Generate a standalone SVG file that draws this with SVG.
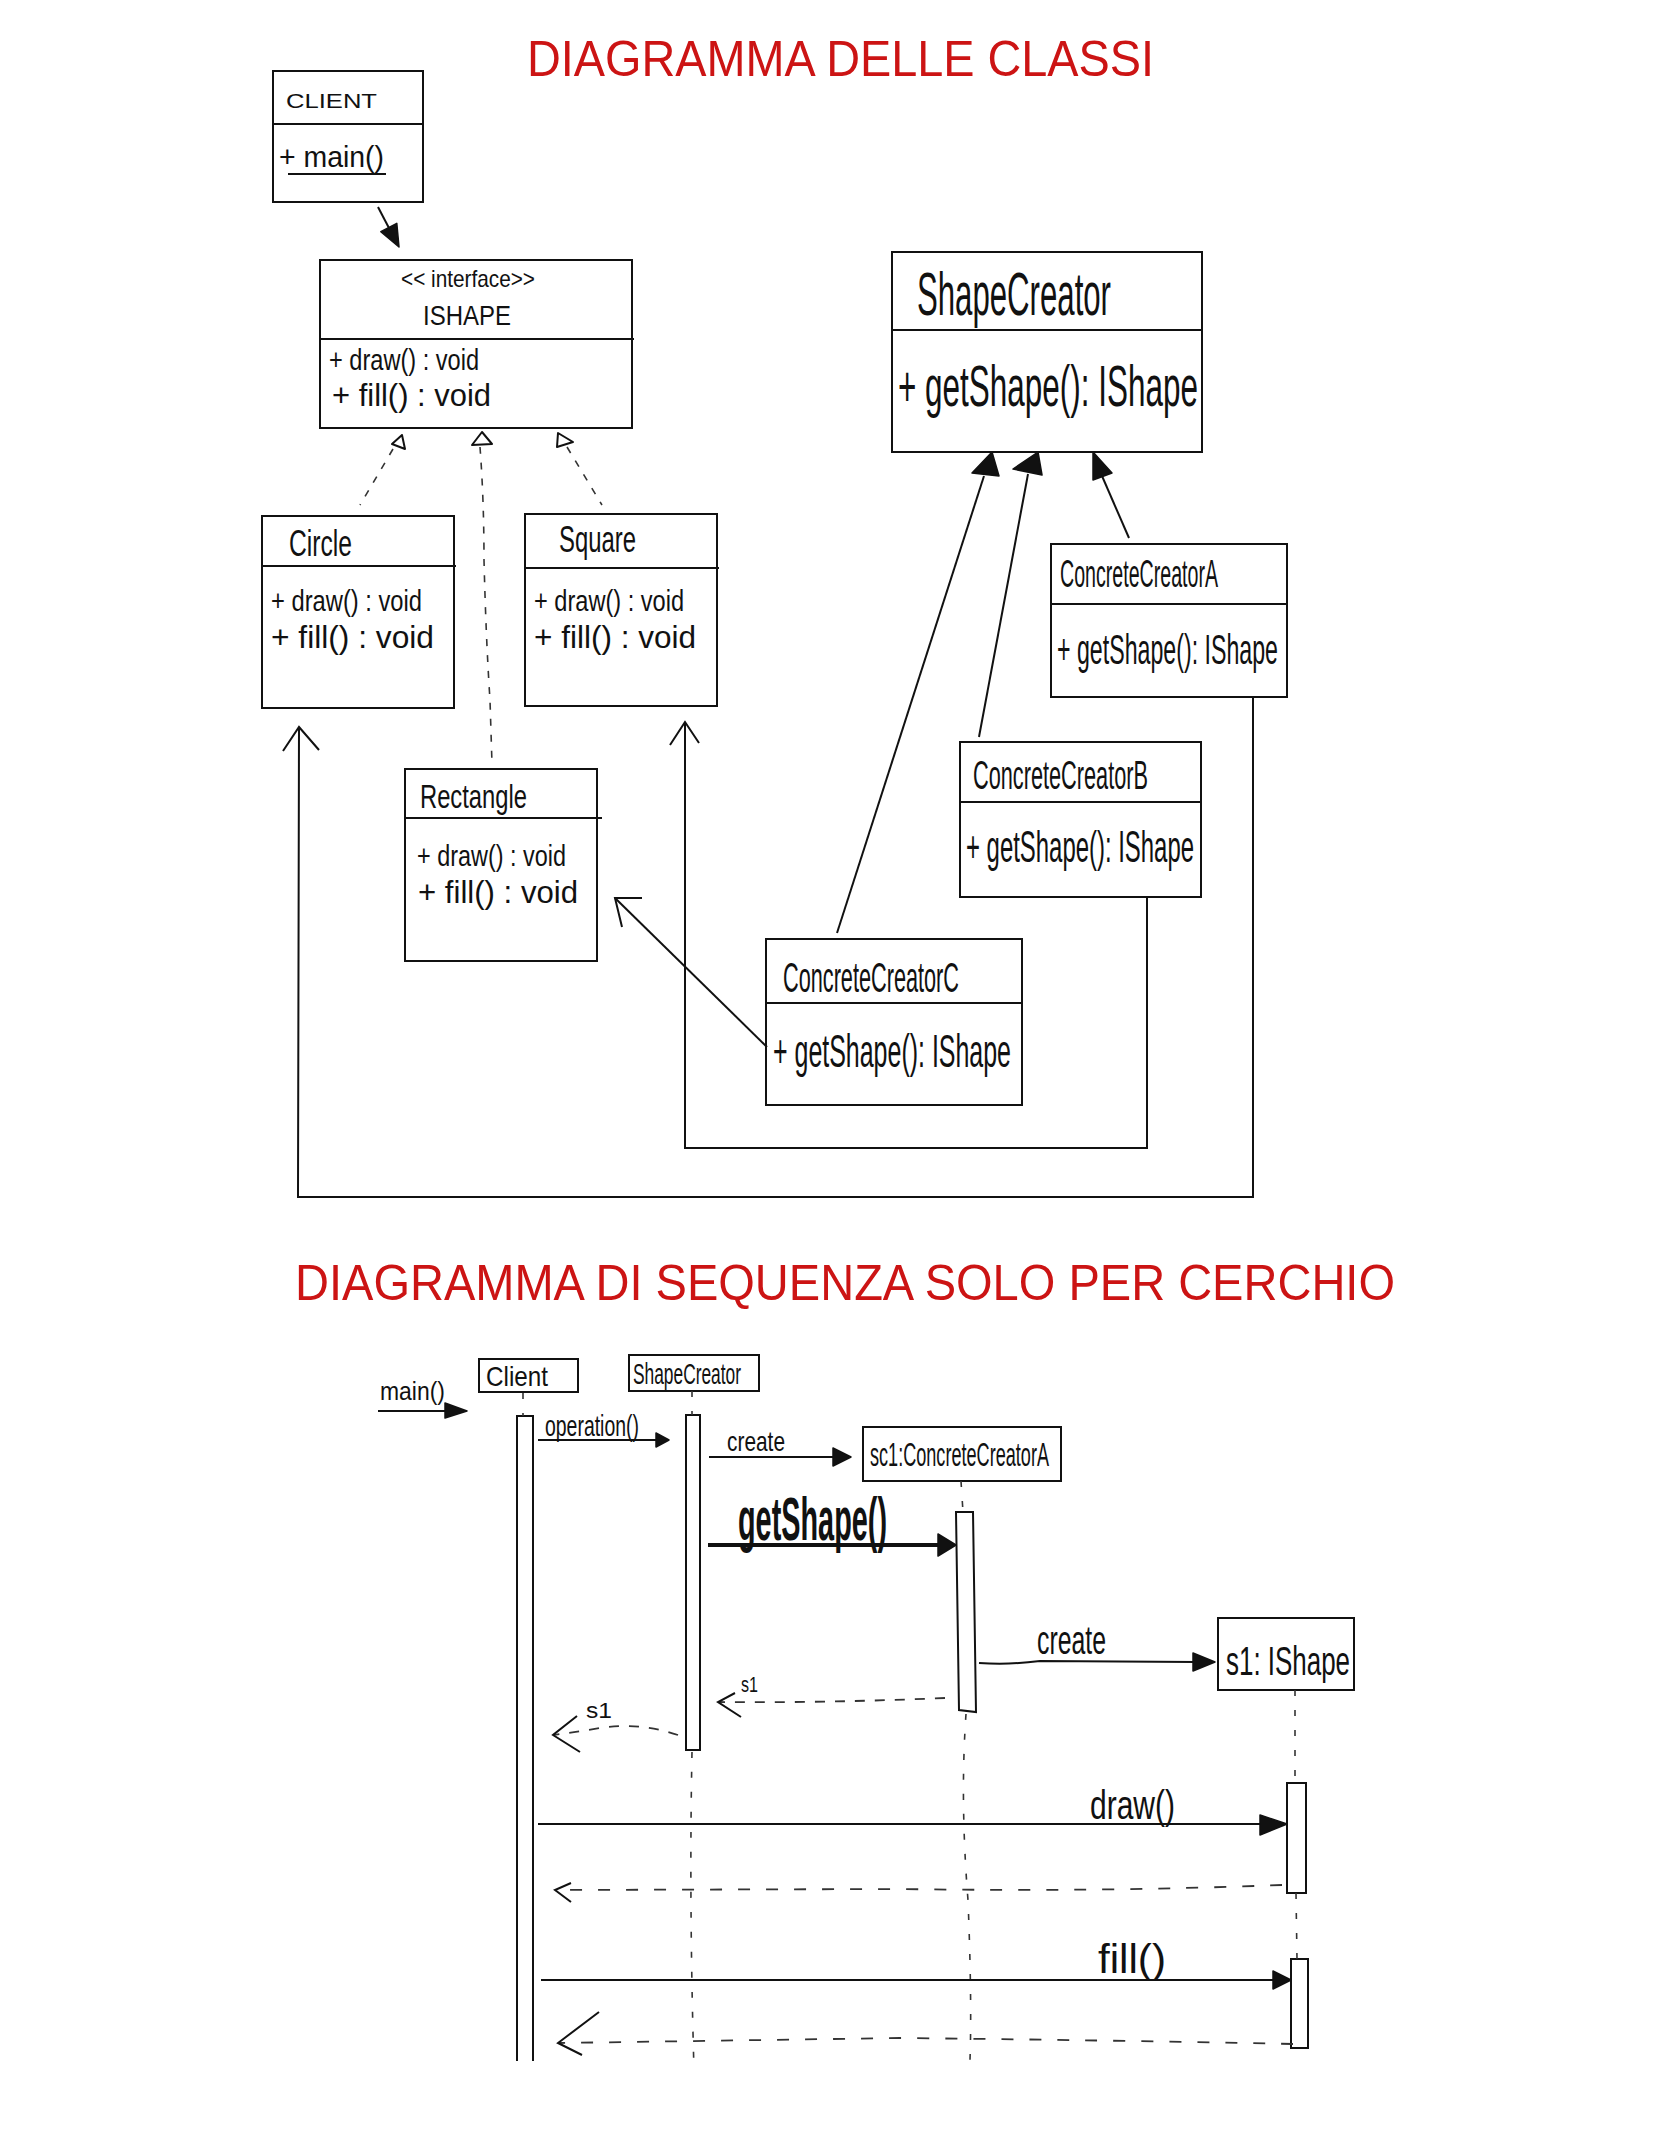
<svg xmlns="http://www.w3.org/2000/svg" width="1668" height="2154" viewBox="0 0 1668 2154">
<style>
.bg{fill:#fff}
.box{fill:none;stroke:#111;stroke-width:2}
.ln{fill:none;stroke:#111;stroke-width:2}
.thick{fill:none;stroke:#111;stroke-width:4}
.dash{fill:none;stroke:#333;stroke-width:1.6;stroke-dasharray:7 9}
.life{fill:none;stroke:#333;stroke-width:1.6;stroke-dasharray:6 14}
.ret{fill:none;stroke:#333;stroke-width:1.8;stroke-dasharray:12 16}
.head{fill:#111;stroke:#111;stroke-width:1.5;stroke-linejoin:round}
.hollow{fill:#fff;stroke:#111;stroke-width:2;stroke-linejoin:round}
.hw{font-family:"Liberation Sans","DejaVu Sans",sans-serif;fill:#111}
.bold{font-weight:bold}
.title{font-family:"Liberation Sans","DejaVu Sans",sans-serif;fill:#cc1414;font-size:50px}
</style>
<rect class="bg" x="0" y="0" width="1668" height="2154"/>

<text class="title" x="527" y="76" textLength="627" lengthAdjust="spacingAndGlyphs">DIAGRAMMA DELLE CLASSI</text>
<text class="title" x="295" y="1300" textLength="1100" lengthAdjust="spacingAndGlyphs">DIAGRAMMA DI SEQUENZA SOLO PER CERCHIO</text>

<!-- class diagram nodes -->
<g id="client">
<rect class="box" x="273" y="71" width="150" height="131"/>
<line class="ln" x1="273" y1="124" x2="423" y2="124"/>
<text class="hw" x="286" y="108" font-size="21" textLength="91" lengthAdjust="spacingAndGlyphs">CLIENT</text>
<text class="hw" x="279" y="167" font-size="30" textLength="105" lengthAdjust="spacingAndGlyphs">+ main()</text>
<line class="ln" x1="288" y1="174" x2="386" y2="174"/>
</g>

<g id="ishape">
<rect class="box" x="320" y="260" width="312" height="168"/>
<line class="ln" x1="320" y1="339" x2="634" y2="339"/>
<text class="hw" x="401" y="287" font-size="24" textLength="134" lengthAdjust="spacingAndGlyphs">&lt;&lt; interface&gt;&gt;</text>
<text class="hw" x="423" y="325" font-size="28" textLength="88" lengthAdjust="spacingAndGlyphs">ISHAPE</text>
<text class="hw" x="329" y="370" font-size="30" textLength="150" lengthAdjust="spacingAndGlyphs">+ draw() : void</text>
<text class="hw" x="332" y="406" font-size="32" textLength="159" lengthAdjust="spacingAndGlyphs">+ fill() : void</text>
</g>

<g id="circle">
<rect class="box" x="262" y="516" width="192" height="192"/>
<line class="ln" x1="262" y1="566" x2="456" y2="566"/>
<text class="hw" x="289" y="556" font-size="36" textLength="63" lengthAdjust="spacingAndGlyphs">Circle</text>
<text class="hw" x="271" y="611" font-size="30" textLength="151" lengthAdjust="spacingAndGlyphs">+ draw() : void</text>
<text class="hw" x="271" y="648" font-size="32" textLength="163" lengthAdjust="spacingAndGlyphs">+ fill() : void</text>
</g>

<g id="square">
<rect class="box" x="525" y="514" width="192" height="192"/>
<line class="ln" x1="525" y1="568" x2="719" y2="568"/>
<text class="hw" x="559" y="552" font-size="36" textLength="77" lengthAdjust="spacingAndGlyphs">Square</text>
<text class="hw" x="534" y="611" font-size="30" textLength="150" lengthAdjust="spacingAndGlyphs">+ draw() : void</text>
<text class="hw" x="534" y="648" font-size="32" textLength="162" lengthAdjust="spacingAndGlyphs">+ fill() : void</text>
</g>

<g id="rectangle">
<rect class="box" x="405" y="769" width="192" height="192"/>
<line class="ln" x1="405" y1="818" x2="602" y2="818"/>
<text class="hw" x="420" y="808" font-size="34" textLength="107" lengthAdjust="spacingAndGlyphs">Rectangle</text>
<text class="hw" x="417" y="866" font-size="30" textLength="149" lengthAdjust="spacingAndGlyphs">+ draw() : void</text>
<text class="hw" x="418" y="903" font-size="32" textLength="160" lengthAdjust="spacingAndGlyphs">+ fill() : void</text>
</g>

<g id="shapecreator">
<rect class="box" x="892" y="252" width="310" height="200"/>
<line class="ln" x1="892" y1="330" x2="1202" y2="330"/>
<text class="hw" x="917" y="315" font-size="62" textLength="194" lengthAdjust="spacingAndGlyphs">ShapeCreator</text>
<text class="hw" x="898" y="406" font-size="58" textLength="300" lengthAdjust="spacingAndGlyphs">+ getShape(): IShape</text>
</g>

<g id="concreteCreatorA">
<rect class="box" x="1051" y="544" width="236" height="153"/>
<line class="ln" x1="1051" y1="604" x2="1287" y2="604"/>
<text class="hw" x="1060" y="587" font-size="38" textLength="158" lengthAdjust="spacingAndGlyphs">ConcreteCreatorA</text>
<text class="hw" x="1057" y="664" font-size="42" textLength="221" lengthAdjust="spacingAndGlyphs">+ getShape(): IShape</text>
</g>

<g id="concreteCreatorB">
<rect class="box" x="960" y="742" width="241" height="155"/>
<line class="ln" x1="960" y1="802" x2="1201" y2="802"/>
<text class="hw" x="973" y="789" font-size="40" textLength="175" lengthAdjust="spacingAndGlyphs">ConcreteCreatorB</text>
<text class="hw" x="966" y="862" font-size="44" textLength="228" lengthAdjust="spacingAndGlyphs">+ getShape(): IShape</text>
</g>

<g id="concreteCreatorC">
<rect class="box" x="766" y="939" width="256" height="166"/>
<line class="ln" x1="766" y1="1003" x2="1022" y2="1003"/>
<text class="hw" x="783" y="992" font-size="42" textLength="176" lengthAdjust="spacingAndGlyphs">ConcreteCreatorC</text>
<text class="hw" x="773" y="1067" font-size="46" textLength="238" lengthAdjust="spacingAndGlyphs">+ getShape(): IShape</text>
</g>

<!-- class diagram connectors -->
<g id="class-connectors">
<line class="ln" x1="378" y1="207" x2="390" y2="230"/>
<polygon class="head" points="399,247 380.8,231.7 396.8,223.3"/>

<path class="dash" d="M393,449 L360,505"/>
<polygon class="hollow" points="402,435 392,444 405,449"/>
<path class="dash" d="M480,447 Q484,500 484,560 Q486,640 490,700 L492,764"/>
<polygon class="hollow" points="482,432 472,445 492,444"/>
<path class="dash" d="M567,447 L602,505"/>
<polygon class="hollow" points="558,433 557,447 573,442"/>

<line class="ln" x1="984" y1="476" x2="837" y2="933"/>
<polygon class="head" points="992,452 972,473 999,476"/>
<line class="ln" x1="1028" y1="474" x2="979" y2="737"/>
<polygon class="head" points="1038,452 1013,469 1042,475"/>
<line class="ln" x1="1102" y1="476" x2="1129" y2="538"/>
<polygon class="head" points="1093,452 1093,480 1112,473"/>

<line class="ln" x1="767" y1="1047" x2="615" y2="898"/>
<polyline class="ln" points="642,898 615,898 622,927"/>

<polyline class="ln" points="1147,897 1147,1148 685,1148 685,722"/>
<polyline class="ln" points="670,745 685,722 699,743"/>
<polyline class="ln" points="1253,697 1253,1197 298,1197 299,727"/>
<polyline class="ln" points="283,751 299,727 319,750"/>
</g>

<!-- sequence diagram nodes -->
<g id="seq-client">
<rect class="box" x="479" y="1359" width="99" height="33"/>
<text class="hw" x="486" y="1386" font-size="28" textLength="62" lengthAdjust="spacingAndGlyphs">Client</text>
<path class="ln" d="M517,2061 V1416 H533 V2061"/>
</g>

<g id="seq-shapecreator">
<rect class="box" x="629" y="1355" width="130" height="36"/>
<text class="hw" x="633" y="1384" font-size="30" textLength="108" lengthAdjust="spacingAndGlyphs">ShapeCreator</text>
<rect class="box" x="686" y="1415" width="14" height="335"/>
</g>

<g id="seq-sc1">
<rect class="box" x="863" y="1427" width="198" height="54"/>
<text class="hw" x="870" y="1466" font-size="34" textLength="179" lengthAdjust="spacingAndGlyphs">sc1:ConcreteCreatorA</text>
<polygon class="box" points="956,1512 973,1512 976,1712 959,1710"/>
</g>

<g id="seq-s1">
<rect class="box" x="1218" y="1618" width="136" height="72"/>
<text class="hw" x="1226" y="1675" font-size="40" textLength="124" lengthAdjust="spacingAndGlyphs">s1: IShape</text>
<rect class="box" x="1287" y="1783" width="19" height="110"/>
<rect class="box" x="1291" y="1959" width="17" height="89"/>
</g>

<!-- sequence connectors -->
<g id="seq-connectors">
<line class="life" x1="523" y1="1393" x2="523" y2="1416"/>
<line class="life" x1="692" y1="1391" x2="692" y2="1415"/>
<path class="life" d="M692,1752 Q689,1900 694,2070"/>
<line class="life" x1="961" y1="1481" x2="963" y2="1512"/>
<path class="life" d="M966,1714 Q960,1800 968,1900 Q972,2000 970,2060"/>
<line class="life" x1="1295" y1="1690" x2="1295" y2="1783"/>
<line class="life" x1="1296" y1="1893" x2="1297" y2="1959"/>

<text class="hw" x="380" y="1400" font-size="26" textLength="65" lengthAdjust="spacingAndGlyphs">main()</text>
<line class="ln" x1="378" y1="1411" x2="447" y2="1411"/>
<polygon class="head" points="445,1403 467,1411 445,1418"/>

<text class="hw" x="545" y="1436" font-size="30" textLength="94" lengthAdjust="spacingAndGlyphs">operation()</text>
<line class="ln" x1="538" y1="1440" x2="660" y2="1440"/>
<polygon class="head" points="656,1433 669,1440 656,1447"/>

<text class="hw" x="727" y="1451" font-size="28" textLength="58" lengthAdjust="spacingAndGlyphs">create</text>
<line class="ln" x1="709" y1="1457" x2="836" y2="1457"/>
<polygon class="head" points="833,1448 851,1457 833,1466"/>

<text class="hw bold" x="738" y="1540" font-size="62" textLength="149" lengthAdjust="spacingAndGlyphs">getShape()</text>
<line class="thick" x1="708" y1="1545" x2="942" y2="1545"/>
<polygon class="head" points="938,1534 956,1545 938,1556"/>

<text class="hw" x="1037" y="1654" font-size="40" textLength="69" lengthAdjust="spacingAndGlyphs">create</text>
<path class="ln" d="M979,1663 Q1010,1665 1040,1661 L1196,1662" stroke-width="2.5"/>
<polygon class="head" points="1193,1653 1215,1662 1193,1671"/>

<text class="hw" x="741" y="1692" font-size="22" textLength="17" lengthAdjust="spacingAndGlyphs">s1</text>
<path class="ret" d="M945,1698 Q830,1703 719,1702" style="stroke-dasharray:10 10"/>
<polyline class="ln" points="735,1693 718,1702 741,1717" stroke-width="2.5"/>

<text class="hw" x="586" y="1718" font-size="22" textLength="26" lengthAdjust="spacingAndGlyphs">s1</text>
<path class="ret" d="M678,1735 Q640,1722 600,1728 Q570,1733 553,1735" style="stroke-dasharray:10 10"/>
<polyline class="ln" points="577,1716 553,1735 580,1752" stroke-width="2.5"/>

<text class="hw" x="1090" y="1819" font-size="40" textLength="85" lengthAdjust="spacingAndGlyphs">draw()</text>
<line class="ln" x1="538" y1="1824" x2="1264" y2="1824" stroke-width="2.5"/>
<polygon class="head" points="1260,1815 1287,1824 1260,1835"/>
<path class="ret" d="M1282,1885 Q1100,1892 900,1889 L555,1890"/>
<polyline class="ln" points="571,1883 555,1890 571,1902"/>

<text class="hw" x="1098" y="1973" font-size="40" textLength="68" lengthAdjust="spacingAndGlyphs">fill()</text>
<line class="ln" x1="541" y1="1980" x2="1276" y2="1980" stroke-width="2.5"/>
<polygon class="head" points="1273,1971 1291,1980 1273,1989"/>
<path class="ret" d="M1293,2044 Q1100,2040 900,2038 L560,2043"/>
<polyline class="ln" points="599,2012 558,2043 582,2055"/>
</g>
</svg>
